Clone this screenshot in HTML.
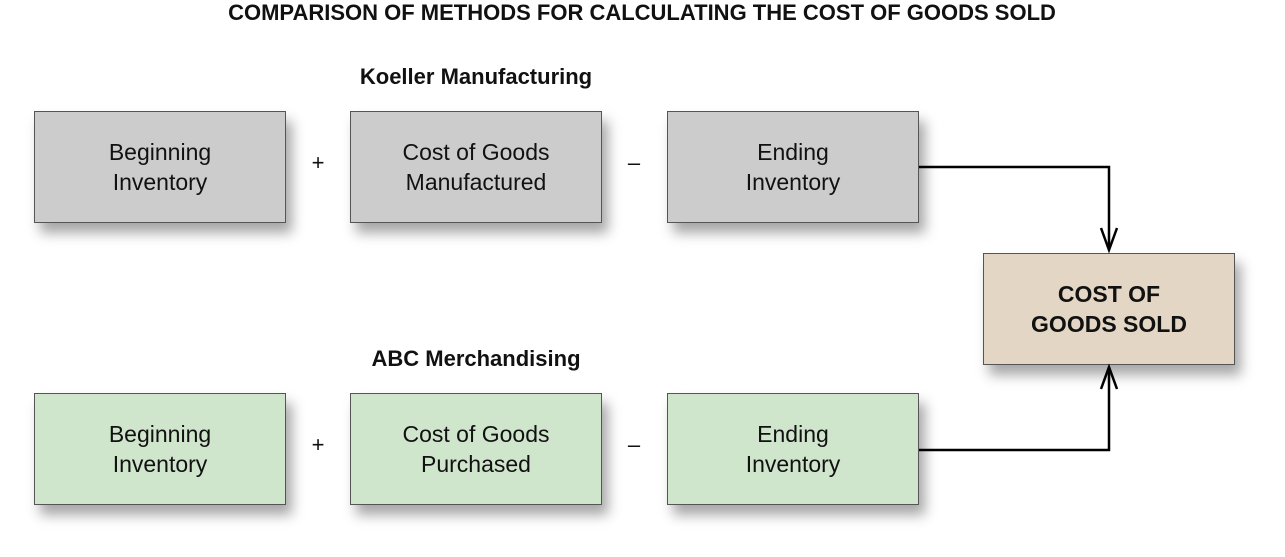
<!DOCTYPE html>
<html><head><style>
body{margin:0;width:1285px;height:557px;background:#fff;position:relative;overflow:hidden;font-family:"Liberation Sans",sans-serif;color:#111}
.b{position:absolute;width:252px;height:112px;border:1px solid #555;box-sizing:border-box;display:flex;align-items:center;justify-content:center;text-align:center;font-size:23px;line-height:30px;box-shadow:6px 10px 12px rgba(0,0,0,0.35)}
.g{background:#cccccc}.n{background:#cfe6cc}
.t{position:absolute;font-weight:bold;white-space:nowrap;transform:translateX(-50%)}
.op{position:absolute;font-size:22px;transform:translateX(-50%)}
</style></head><body>
<div class="t" style="left:642px;top:0px;font-size:22px">COMPARISON OF METHODS FOR CALCULATING THE COST OF GOODS SOLD</div>
<div class="t" style="left:476px;top:64px;font-size:22px">Koeller Manufacturing</div>
<div class="t" style="left:476px;top:346px;font-size:22px">ABC Merchandising</div>
<div class="b g" style="left:34px;top:111px">Beginning<br>Inventory</div>
<div class="b g" style="left:350px;top:111px">Cost of Goods<br>Manufactured</div>
<div class="b g" style="left:667px;top:111px">Ending<br>Inventory</div>
<div class="b n" style="left:34px;top:393px">Beginning<br>Inventory</div>
<div class="b n" style="left:350px;top:393px">Cost of Goods<br>Purchased</div>
<div class="b n" style="left:667px;top:393px">Ending<br>Inventory</div>
<div class="b" style="left:983px;top:253px;width:252px;height:112px;background:#e3d6c5;font-weight:bold;font-size:23px">COST OF<br>GOODS SOLD</div>
<div class="op" style="left:318px;top:150px">+</div>
<div class="op" style="left:634px;top:150px">–</div>
<div class="op" style="left:318px;top:432px">+</div>
<div class="op" style="left:634px;top:432px">–</div>
<svg width="1285" height="557" style="position:absolute;left:0;top:0" fill="none" stroke="#000" stroke-width="2.5">
<polyline points="919,167 1109,167 1109,249"/>
<polyline points="1101,228 1109,250 1117,228"/>
<polyline points="919,450 1109,450 1109,368"/>
<polyline points="1101,389 1109,367 1117,389"/>
</svg>
</body></html>
